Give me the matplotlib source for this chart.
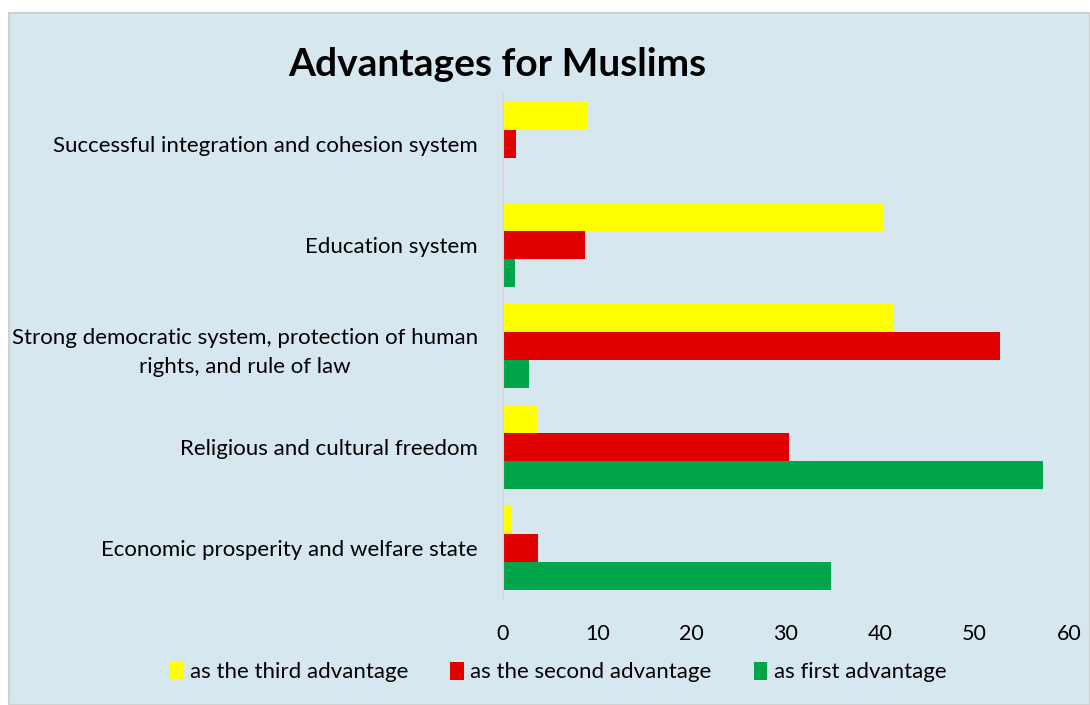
import matplotlib.pyplot as plt
from matplotlib.patches import Rectangle, Patch
import numpy as np

plt.rcParams['font.family'] = ['Lato', 'DejaVu Sans']

categories = [
    'Economic prosperity and welfare state',
    'Religious and cultural freedom',
    'Strong democratic system, protection of human\nrights, and rule of law',
    'Education system',
    'Successful integration and cohesion system',
]
third = [0.9, 3.6, 41.3, 40.3, 8.9]
second = [3.7, 30.3, 52.7, 8.7, 1.4]
first = [34.8, 57.2, 2.8, 1.3, 0.0]

series_names = ['as the third advantage', 'as the second advantage', 'as first advantage']
colors = ['#FFFF00', '#E00000', '#00A44A']
bg = '#D7E7F0'

fig = plt.figure(figsize=(10.9, 7.05), dpi=100, facecolor='white')
# light blue chart area with a thin grey frame
fig.patches.append(Rectangle((9 / 1090, 0), 1 - 9 / 1090, 1 - 13 / 705,
                             transform=fig.transFigure, facecolor=bg,
                             edgecolor='#D0D0D0', linewidth=1.5, zorder=-10))

ax = fig.add_axes([503 / 1090, 1 - 598.5 / 705, 566 / 1090, 505 / 705])
ax.set_facecolor('none')
ax.set_zorder(5)

y = np.arange(len(categories))
h = 0.277
ax.barh(y + h, third, height=h, color=colors[0], label=series_names[0])
ax.barh(y, second, height=h, color=colors[1], label=series_names[1])
ax.barh(y - h, first, height=h, color=colors[2], label=series_names[2])

ax.set_xlim(0, 60)
ax.set_ylim(-0.5, 4.5)
ax.set_xticks(range(0, 61, 10))
ax.set_yticks(y)
ax.set_yticklabels(categories, multialignment='center', linespacing=1.55)
ax.tick_params(axis='both', length=0, labelsize=16, colors='black')
ax.tick_params(axis='x', labelsize=15.5, pad=18)
ax.tick_params(axis='y', pad=18)
for s in ['top', 'right', 'bottom']:
    ax.spines[s].set_visible(False)
ax.spines['left'].set_color('#D9D9D9')
ax.spines['left'].set_linewidth(1.5)

fig.text(497 / 1090, 1 - 64 / 705, 'Advantages for Muslims', ha='center', va='center',
         fontsize=28, fontweight='bold')

handles = [Patch(facecolor=c, edgecolor='none') for c in colors]
fig.legend(handles, series_names, loc='center', bbox_to_anchor=(558 / 1090, 1 - 672 / 705),
           ncol=3, frameon=False, fontsize=16, handlelength=0.6, handleheight=0.9,
           handletextpad=0.3, columnspacing=1.9)

fig.savefig('out.png', dpi=100, facecolor=fig.get_facecolor())
